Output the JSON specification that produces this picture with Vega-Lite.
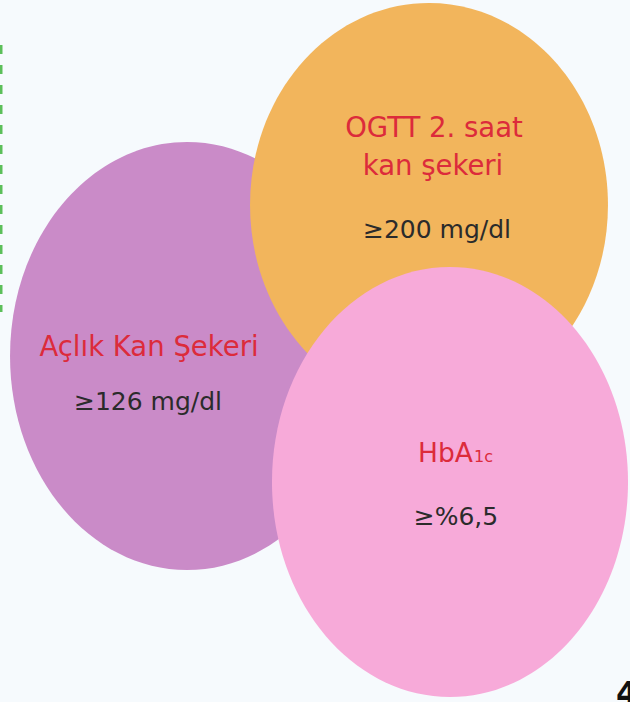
{
  "$schema": "https://vega.github.io/schema/vega-lite/v6.json",
  "width": 630,
  "height": 702,
  "autosize": {"type": "none"},
  "padding": 0,
  "background": "#f6fafd",
  "config": {"view": {"stroke": null}},
  "datasets": {
    "ellipses": [
      {"name": "Açlık Kan Şekeri", "cx": 187, "cy": 356},
      {"name": "OGTT", "cx": 429, "cy": 205},
      {"name": "HbA1c", "cx": 450, "cy": 482}
    ],
    "titles": [
      {"text": "Açlık Kan Şekeri", "x": 149, "y": 356},
      {"text": "OGTT 2. saat", "x": 434, "y": 137},
      {"text": "kan şekeri", "x": 433, "y": 175}
    ],
    "values": [
      {"text": "≥126 mg/dl", "x": 148, "y": 410},
      {"text": "≥200 mg/dl", "x": 437, "y": 238},
      {"text": "≥%6,5", "x": 456, "y": 525}
    ],
    "hba": [
      {"text": "HbA", "x": 473, "y": 462},
      {"sub": "1c", "x": 474, "y": 462}
    ],
    "border": [{"x": 1, "y": 45, "y2": 312}],
    "page": [{"text": "4", "x": 616, "y": 704}]
  },
  "layer": [
    {
      "data": {"name": "border"},
      "mark": {"type": "rule", "color": "#5cbf5a", "strokeWidth": 3, "strokeDash": [9, 11]},
      "encoding": {
        "x": {"field": "x", "type": "quantitative", "scale": {"domain": [0, 630], "nice": false, "zero": false}, "axis": null},
        "y": {"field": "y", "type": "quantitative", "scale": {"domain": [0, 702], "nice": false, "zero": false, "reverse": true}, "axis": null},
        "y2": {"field": "y2"}
      }
    },
    {
      "data": {"name": "ellipses"},
      "transform": [{"filter": "datum.name === 'Açlık Kan Şekeri'"}],
      "mark": {"type": "point", "filled": true, "opacity": 1, "color": "#ca8bc8", "strokeWidth": 0, "size": 183184,
        "shape": "M -0.827 0 A 0.827 1 0 1 0 0.827 0 A 0.827 1 0 1 0 -0.827 0 Z"},
      "encoding": {
        "x": {"field": "cx", "type": "quantitative"},
        "y": {"field": "cy", "type": "quantitative"}
      }
    },
    {
      "data": {"name": "ellipses"},
      "transform": [{"filter": "datum.name === 'OGTT'"}],
      "mark": {"type": "point", "filled": true, "opacity": 1, "color": "#f2b55c", "strokeWidth": 0, "size": 163216,
        "shape": "M -0.886 0 A 0.886 1 0 1 0 0.886 0 A 0.886 1 0 1 0 -0.886 0 Z"},
      "encoding": {
        "x": {"field": "cx", "type": "quantitative"},
        "y": {"field": "cy", "type": "quantitative"}
      }
    },
    {
      "data": {"name": "ellipses"},
      "transform": [{"filter": "datum.name === 'HbA1c'"}],
      "mark": {"type": "point", "filled": true, "opacity": 1, "color": "#f7aad9", "strokeWidth": 0, "size": 184900,
        "shape": "M -0.828 0 A 0.828 1 0 1 0 0.828 0 A 0.828 1 0 1 0 -0.828 0 Z"},
      "encoding": {
        "x": {"field": "cx", "type": "quantitative"},
        "y": {"field": "cy", "type": "quantitative"}
      }
    },
    {
      "data": {"name": "titles"},
      "mark": {"type": "text", "font": "DejaVu Sans", "fontSize": 27.5, "baseline": "alphabetic", "align": "center", "color": "#dc2b3b"},
      "encoding": {
        "x": {"field": "x", "type": "quantitative"},
        "y": {"field": "y", "type": "quantitative"},
        "text": {"field": "text"}
      }
    },
    {
      "data": {"name": "values"},
      "mark": {"type": "text", "font": "DejaVu Sans", "fontSize": 25, "baseline": "alphabetic", "align": "center", "color": "#2b2b2b"},
      "encoding": {
        "x": {"field": "x", "type": "quantitative"},
        "y": {"field": "y", "type": "quantitative"},
        "text": {"field": "text"}
      }
    },
    {
      "data": {"name": "hba"},
      "transform": [{"filter": "datum.text"}],
      "mark": {"type": "text", "font": "DejaVu Sans", "fontSize": 26.5, "baseline": "alphabetic", "align": "right", "color": "#dc2b3b"},
      "encoding": {
        "x": {"field": "x", "type": "quantitative"},
        "y": {"field": "y", "type": "quantitative"},
        "text": {"field": "text"}
      }
    },
    {
      "data": {"name": "hba"},
      "transform": [{"filter": "datum.sub"}],
      "mark": {"type": "text", "font": "DejaVu Sans", "fontSize": 16, "baseline": "alphabetic", "align": "left", "color": "#dc2b3b"},
      "encoding": {
        "x": {"field": "x", "type": "quantitative"},
        "y": {"field": "y", "type": "quantitative"},
        "text": {"field": "sub"}
      }
    },
    {
      "data": {"name": "page"},
      "mark": {"type": "text", "font": "DejaVu Sans", "fontSize": 32, "fontWeight": "bold", "baseline": "alphabetic", "align": "left", "color": "#111111"},
      "encoding": {
        "x": {"field": "x", "type": "quantitative"},
        "y": {"field": "y", "type": "quantitative"},
        "text": {"field": "text"}
      }
    }
  ]
}
